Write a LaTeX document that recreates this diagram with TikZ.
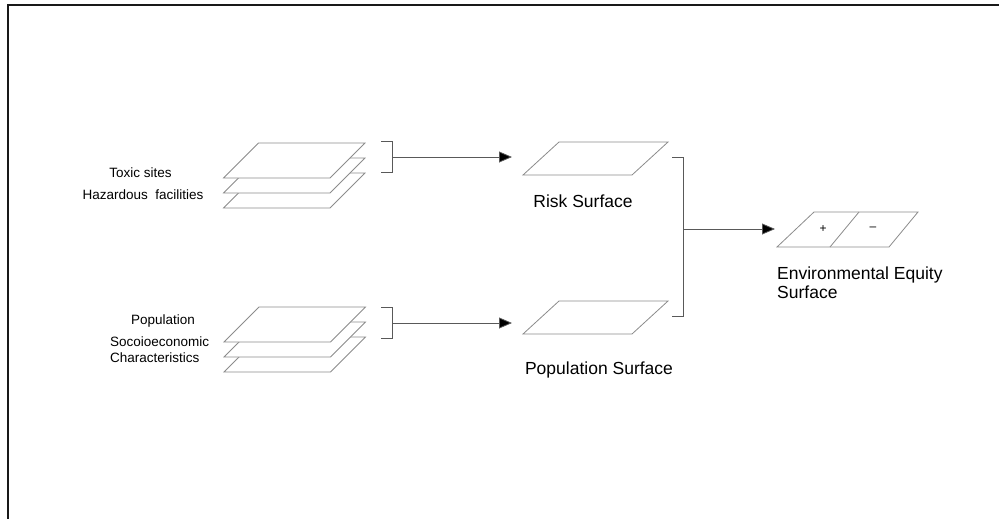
\documentclass[tikz,border=0pt]{standalone}
\usepackage{fontspec}
\setmainfont{Liberation Sans}
\usetikzlibrary{arrows.meta}

% parallelogram layer: #1 = bottom-left x, #2 = bottom-left y, #3 = width, #4 = skew, #5 = height
\newcommand{\layer}[5]{%
  \draw[plane] (#1,#2) -- ++(#3,0) -- ++(#4,-#5) -- ++(-#3,0) -- cycle;}

\tikzset{
  plane/.style={draw=black!45, fill=white, line width=0.8pt},
  link/.style={draw=black!65, line width=0.8pt},
  arrowlink/.style={link, -{Triangle[length=13pt,width=11pt,fill=black]}},
  small/.style={inner sep=0pt, font=\fontsize{13.5}{16}\selectfont},
  big/.style={inner sep=0pt, font=\fontsize{17.5}{19}\selectfont},
  sign/.style={inner sep=0pt, font=\fontsize{12}{14}\selectfont},
}

\begin{document}
\begin{tikzpicture}[x=1pt, y=-1pt]
\useasboundingbox (0,0) rectangle (999,519);

% outer frame (top and left edges)
\draw[line width=2pt, black!90] (7.7,519) -- (7.7,5) -- (999,5);

% input stack: toxic sites / hazardous facilities
\layer{223.5}{208}{106.5}{35}{35}
\layer{223.5}{193}{106.5}{35}{35}
\layer{223.5}{178}{106.5}{35}{35}

% input stack: population / socioeconomic data
\layer{224}{372}{106.5}{35}{35}
\layer{224}{357}{106.5}{35}{35}
\layer{224}{342}{106.5}{35}{35}

% derived surfaces
\layer{523}{175}{109}{36}{33}
\layer{523}{334}{109}{36}{33}

% equity surface split into + and - halves
\draw[plane] (777,247) -- (889,247) -- (918,212) -- (814,212) -- cycle;
\draw[plane] (830,247) -- (859,212);
\node[sign] (plus) at (823,229) {+};
\node[sign] (minus) at (873,229) {\textendash};

% labels
\node[small, anchor=base] (toxic) at (140.5,177) {Toxic sites};
\node[small, anchor=base] (hazard) at (143,199) {Hazardous\ \ facilities};
\node[small, anchor=base] (pop) at (163,324) {Population};
\node[small, anchor=base west] (socio) at (110,346) {Socoioeconomic};
\node[small, anchor=base west] (charac) at (110,362) {Characteristics};
\node[big, anchor=base] (risklbl) at (583,207) {Risk Surface};
\node[big, anchor=base] (poplbl) at (599,374) {Population Surface};
\node[big, anchor=base west] (envlbl1) at (777,279) {Environmental Equity};
\node[big, anchor=base west] (envlbl2) at (777,298) {Surface};

% bracket joining the hazard layers
\coordinate (b1t) at (392,141);
\coordinate (b1b) at (392,172);
\coordinate (b1m) at (392,157);
\coordinate (risk-in) at (512,157);
\draw[link] (381,141) -- (b1t) -- (b1b) -- (381,172);
\draw[arrowlink] (b1m) -- (risk-in);

% bracket joining the population layers
\coordinate (b2t) at (392,307);
\coordinate (b2b) at (392,338);
\coordinate (b2m) at (392,323);
\coordinate (pop-in) at (512,323);
\draw[link] (381,307) -- (b2t) -- (b2b) -- (381,338);
\draw[arrowlink] (b2m) -- (pop-in);

% bracket combining both surfaces
\coordinate (b3t) at (683,157);
\coordinate (b3b) at (683,316);
\coordinate (b3m) at (683,229);
\coordinate (env-in) at (775,229);
\draw[link] (672,157) -- (b3t) -- (b3b) -- (672,316);
\draw[arrowlink] (b3m) -- (env-in);
\end{tikzpicture}
\end{document}
